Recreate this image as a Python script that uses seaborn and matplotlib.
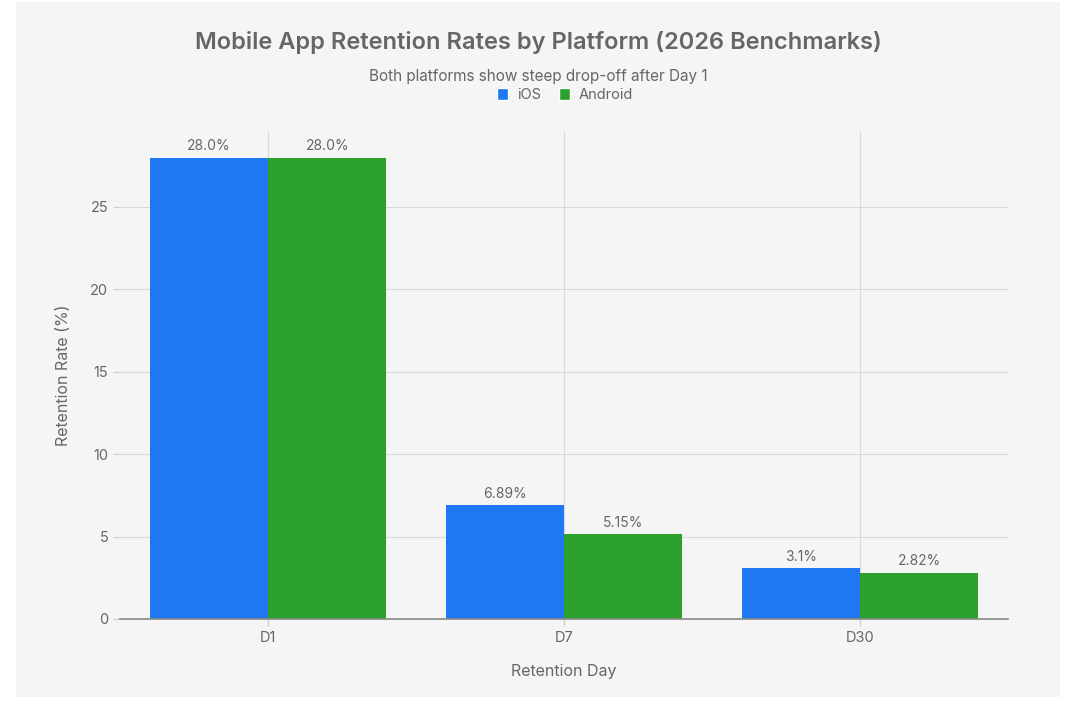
import matplotlib
matplotlib.use("Agg")
import matplotlib.pyplot as plt
import seaborn as sns
import pandas as pd
from matplotlib.patches import Rectangle

days = ["D1", "D7", "D30"]
ios = [28.0, 6.89, 3.1]
android = [28.0, 5.15, 2.82]
ios_labels = ["28.0%", "6.89%", "3.1%"]
android_labels = ["28.0%", "5.15%", "2.82%"]
platforms = ["iOS", "Android"]
colors = ["#1f77f2", "#2ca02c"]

df = pd.DataFrame({
    "Day": days * 2,
    "Platform": [platforms[0]] * 3 + [platforms[1]] * 3,
    "Rate": ios + android,
})

sns.set_theme(style="white")
plt.rcParams["font.family"] = ["Inter", "DejaVu Sans"]

fig = plt.figure(figsize=(10.72, 7.04), dpi=100)
fig.patch.set_facecolor("white")
bg = Rectangle((16 / 1072, 1 - 697 / 704), (1060 - 16) / 1072, (697 - 2) / 704,
               transform=fig.transFigure, facecolor="#f5f5f5", edgecolor="none", zorder=-10)
fig.patches.append(bg)

ax = fig.add_axes([120 / 1072, 1 - 619 / 704, (1008 - 120) / 1072, (619 - 132) / 704])
ax.set_facecolor("#f5f5f5")

sns.barplot(data=df, x="Day", y="Rate", hue="Platform", palette=colors,
            width=0.8, ax=ax, legend=False, saturation=1, linewidth=0, edgecolor="none")

ax.set_xlim(-0.5, 2.5)
ax.set_ylim(0, 29.55)
ax.set_yticks([0, 5, 10, 15, 20, 25])
ax.grid(True, axis="both", color="#d9d9d9", linewidth=0.8)
ax.set_axisbelow(True)
for s in ["top", "right", "left"]:
    ax.spines[s].set_visible(False)
ax.spines["bottom"].set_color("#888888")
ax.spines["bottom"].set_linewidth(1.2)
ax.tick_params(axis="both", colors="#d0d0d0", labelcolor="#666666", labelsize=10.5,
               length=5, width=0.8, left=True, bottom=True)

for cont, labels in zip(ax.containers, [ios_labels, android_labels]):
    ax.bar_label(cont, labels=labels, padding=3, color="#666666", fontsize=10)

ax.set_xlabel("Retention Day", color="#666666", fontsize=11.5, labelpad=14)
ax.set_ylabel("Retention Rate (%)", color="#666666", fontsize=11.5, labelpad=14)

fig.text(538 / 1072, 1 - 42 / 704, "Mobile App Retention Rates by Platform (2026 Benchmarks)",
         ha="center", va="center", fontsize=17, color="#666666", fontweight="semibold")
fig.text(538 / 1072, 1 - 76 / 704, "Both platforms show steep drop-off after Day 1",
         ha="center", va="center", fontsize=11, color="#666666")

handles = [Rectangle((0, 0), 1, 1, facecolor=c) for c in colors]
fig.legend(handles, platforms, loc="center", bbox_to_anchor=(565 / 1072, 1 - 95 / 704),
           ncol=2, frameon=False, fontsize=10.5, labelcolor="#666666",
           handlelength=0.8, handleheight=0.8, columnspacing=1.2, handletextpad=0.6)

fig.savefig("out.png", dpi=100, facecolor="white")
